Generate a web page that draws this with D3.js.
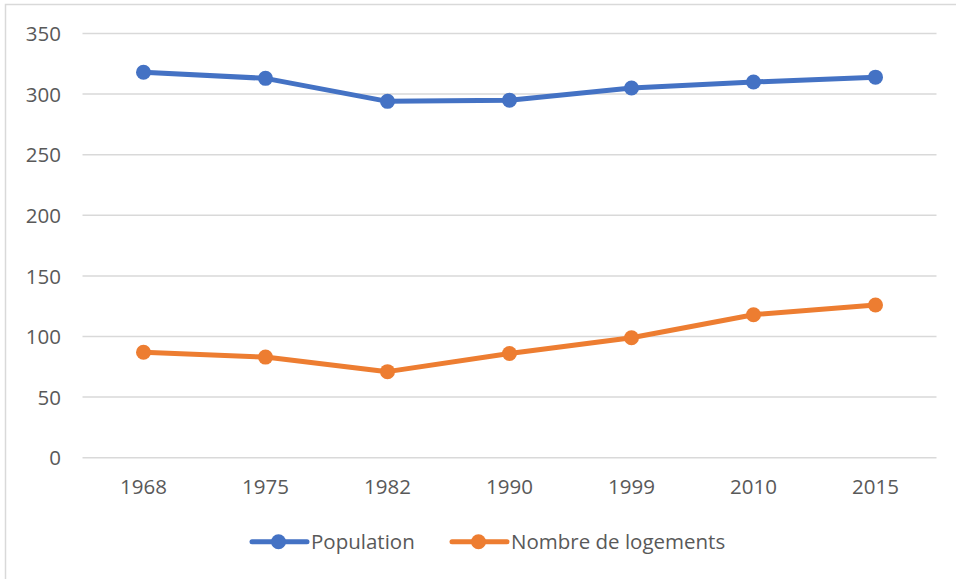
<!DOCTYPE html>
<html>
<head>
<meta charset="utf-8">
<script src="https://cdn.jsdelivr.net/npm/d3@7"></script>
<style>
  body { margin: 0; background: #fff; }
  svg { display: block; font-family: "Open Sans", "Liberation Sans", sans-serif; }
</style>
</head>
<body>
<svg id="chart" width="956" height="579"></svg>
<script>
// data
var years = ['1968', '1975', '1982', '1990', '1999', '2010', '2015'];
var population = [318, 313, 294, 295, 305, 310, 314];
var logements = [87, 83, 71, 86, 99, 118, 126];
var yTicks = [0, 50, 100, 150, 200, 250, 300, 350];
var seriesNames = ['Population', 'Nombre de logements'];
var seriesColors = ['#4472C4', '#ED7D31'];

var svg = d3.select('#chart'),
    plotLeft = 82.5, plotRight = 936.5, plotTop = 33.5, plotBottom = 457.7;

// chart area border (cropped on right and bottom)
svg.append('rect')
    .attr('x', 5.5).attr('y', 4.5)
    .attr('width', 1000).attr('height', 1000)
    .attr('fill', 'none').attr('stroke', '#d9d9d9').attr('stroke-width', 1.5);

var x = d3.scaleBand().domain(years).range([plotLeft, plotRight]);
var y = d3.scaleLinear().domain([0, 350]).range([plotBottom, plotTop]);

// gridlines
svg.append('g').selectAll('line').data(yTicks).enter().append('line')
    .attr('x1', plotLeft).attr('x2', plotRight)
    .attr('y1', function(d) { return y(d); })
    .attr('y2', function(d) { return y(d); })
    .attr('stroke', '#d9d9d9').attr('stroke-width', 1.5);

// y axis labels
var yAxis = svg.append('g').attr('transform', 'translate(61,0)')
    .call(d3.axisLeft(y).tickValues(yTicks).tickSize(0).tickPadding(0));
yAxis.select('.domain').remove();
yAxis.selectAll('text').attr('font-size', 20.5).attr('fill', '#595959')
    .attr('font-family', '"Open Sans", sans-serif').attr('dy', '0.35em');

// x axis labels
var xAxis = svg.append('g').attr('transform', 'translate(0,' + plotBottom + ')')
    .call(d3.axisBottom(x).tickSize(0).tickPadding(22));
xAxis.select('.domain').remove();
xAxis.selectAll('text').attr('font-size', 20.5).attr('fill', '#595959')
    .attr('font-family', '"Open Sans", sans-serif');

var line = d3.line()
    .x(function(d, i) { return x(years[i]) + x.bandwidth() / 2; })
    .y(function(d) { return y(d); });

[population, logements].forEach(function(values, k) {
    var g = svg.append('g');
    g.append('path').datum(values)
        .attr('d', line)
        .attr('fill', 'none')
        .attr('stroke', seriesColors[k])
        .attr('stroke-width', 5)
        .attr('stroke-linejoin', 'round')
        .attr('stroke-linecap', 'round');
    g.selectAll('circle').data(values).enter().append('circle')
        .attr('cx', function(d, i) { return x(years[i]) + x.bandwidth() / 2; })
        .attr('cy', function(d) { return y(d); })
        .attr('r', 7.5)
        .attr('fill', seriesColors[k]);
});

// legend
var legendX = [252, 452], legendY = 541.7;
seriesNames.forEach(function(name, k) {
    var g = svg.append('g').attr('transform', 'translate(' + legendX[k] + ',' + legendY + ')');
    g.append('line').attr('x1', 0).attr('x2', 55).attr('y1', 0).attr('y2', 0)
        .attr('stroke', seriesColors[k]).attr('stroke-width', 5).attr('stroke-linecap', 'round');
    g.append('circle').attr('cx', 26.5).attr('cy', 0).attr('r', 7.5).attr('fill', seriesColors[k]);
    g.append('text').attr('x', 59).attr('y', 0).attr('dy', '0.35em')
        .attr('font-size', 20.5).attr('fill', '#595959').text(name);
});
</script>
</body>
</html>
